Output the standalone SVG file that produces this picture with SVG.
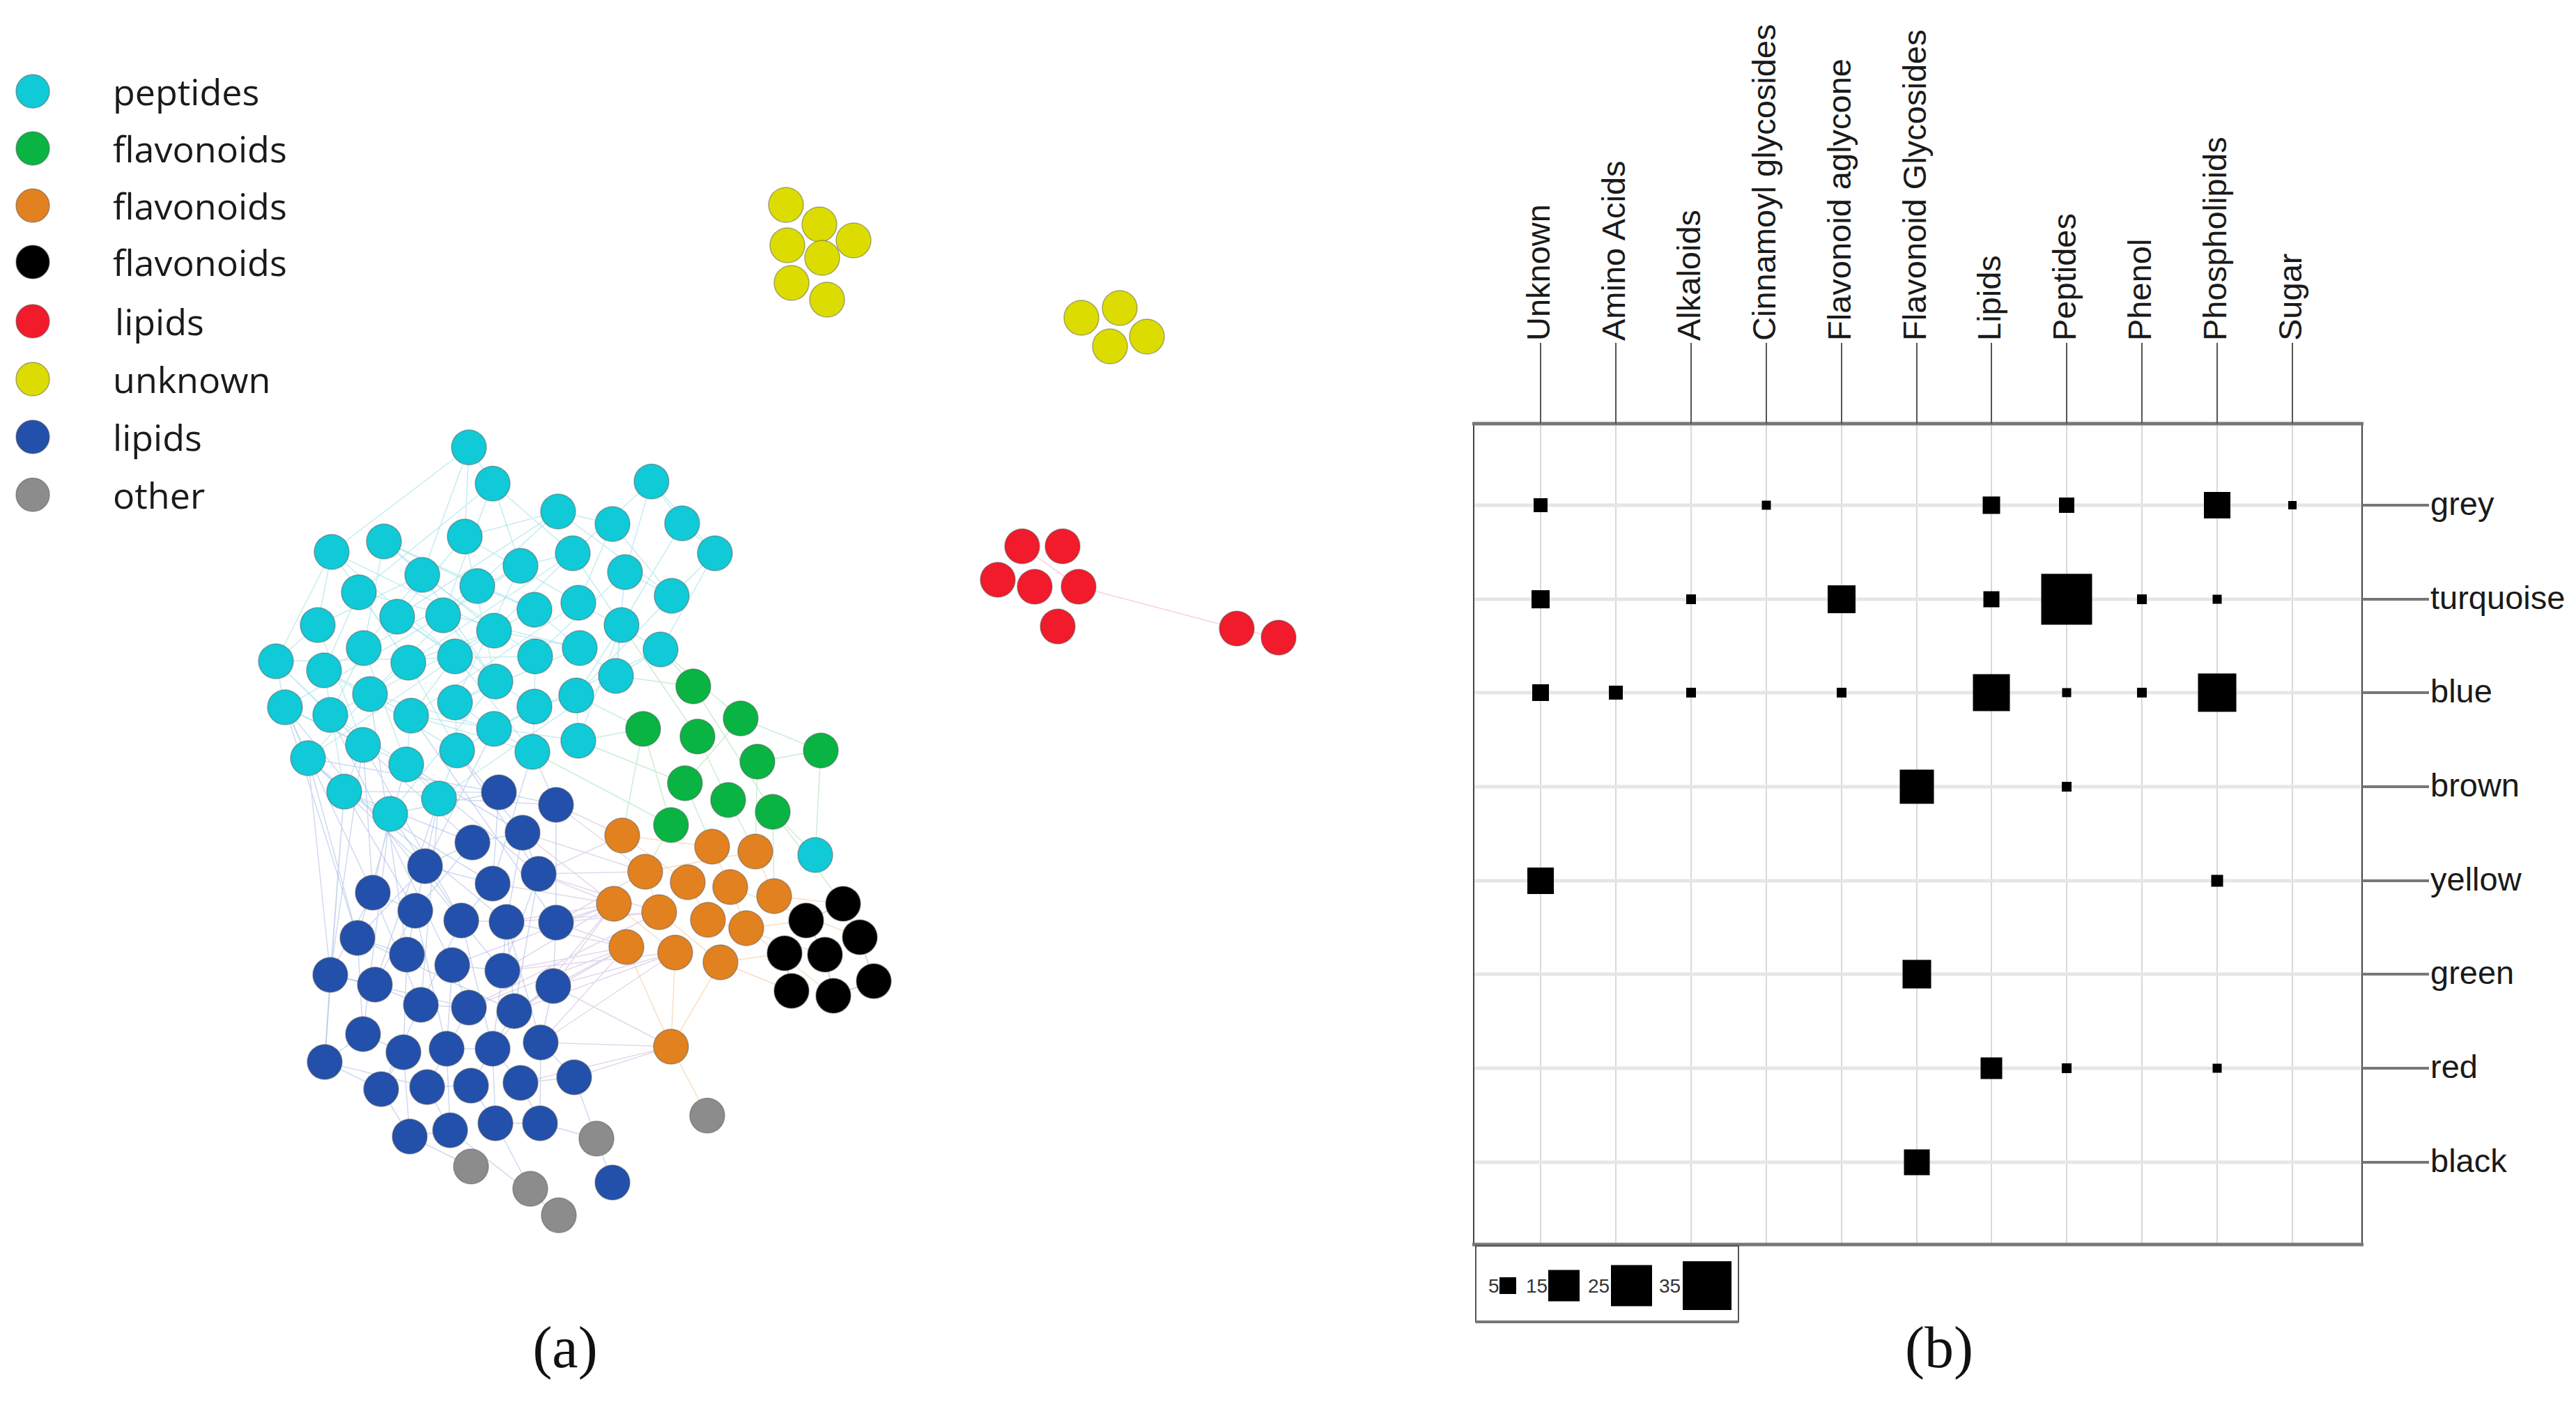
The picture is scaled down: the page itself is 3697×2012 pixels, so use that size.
<svg xmlns="http://www.w3.org/2000/svg" width="3697" height="2012" viewBox="0 0 3697 2012">
<defs>
<style>
.lg{font-family:"Open Sans","Noto Sans",sans-serif;font-size:52px;fill:#1a1a1a}
.ax{font-family:"Liberation Sans",Arial,sans-serif;font-size:47px;fill:#1a1a1a}
.sm{font-family:"Liberation Sans",Arial,sans-serif;font-size:28px;fill:#333}
.pl{font-family:"Liberation Serif","Times New Roman",serif;font-size:84px;fill:#111}
circle{stroke:#4a4a4a;stroke-opacity:.45;stroke-width:1.5}
.cy{fill:#10cad8}.gr{fill:#09b443}.or{fill:#e2811f}.bk{fill:#000}.rd{fill:#f11b2b}.ye{fill:#dcdc00}.bl{fill:#2350ab}.gy{fill:#8c8c8c}
.e{fill:none;stroke-width:1.5;stroke-opacity:.45}
.grid{stroke:#d9d9d9;stroke-width:2}
.rowl{stroke:#e6e6e6;stroke-width:5}
.tick{stroke:#555;stroke-width:2}
.rtick{stroke:#777;stroke-width:4}
.sq{fill:#000}
</style>
</defs>
<rect width="3697" height="2012" fill="#fff"/>

<g id="legend">
<g id="lg-peptides"><circle class="cy" cx="47" cy="131" r="24" stroke="none"/><text class="lg" x="162" y="151">peptides</text></g>
<g id="lg-flav1"><circle class="gr" cx="47" cy="213" r="24" stroke="none"/><text class="lg" x="162" y="233">flavonoids</text></g>
<g id="lg-flav2"><circle class="or" cx="47" cy="295" r="24" stroke="none"/><text class="lg" x="162" y="315">flavonoids</text></g>
<g id="lg-flav3"><circle class="bk" cx="47" cy="376" r="24" stroke="none"/><text class="lg" x="162" y="396">flavonoids</text></g>
<g id="lg-lipids1"><circle class="rd" cx="47" cy="461" r="24" stroke="none"/><text class="lg" x="165" y="481">lipids</text></g>
<g id="lg-unknown"><circle class="ye" cx="47" cy="544" r="24" stroke="none"/><text class="lg" x="162" y="564">unknown</text></g>
<g id="lg-lipids2"><circle class="bl" cx="47" cy="627" r="24" stroke="none"/><text class="lg" x="162" y="647">lipids</text></g>
<g id="lg-other"><circle class="gy" cx="47" cy="710" r="24" stroke="none"/><text class="lg" x="162" y="730">other</text></g>
</g>

<g id="connectors">
<path class="e" stroke="#7fd6e2" d="M673 642L476 792M673 642L606 825M673 642L667 770M673 642L707 694M707 694L747 812M707 694L515 850M707 694L636 883M935 691L822 794M935 691L897 821M801 734L685 841M801 734L570 885M879 752L964 855M979 751L1026 794M979 751L892 897M476 792L456 897M476 792L653 942M551 777L767 875M551 777L522 930M667 770L830 865M667 770L711 978M822 794L586 951M1026 794L948 932M606 825L768 942M747 812L465 962M685 841L531 996M897 821L884 970M515 850L832 930M964 855L827 998M570 885L767 1014M636 883L409 1015M767 875L474 1026M830 865L590 1027M456 897L521 1069M709 905L442 1088M892 897L830 1063M522 930L583 1097M586 951L656 1077M653 942L764 1079M768 942L396 949M832 930L653 1008M948 932L709 1046M396 949L409 1015M465 962L494 1136M711 978L560 1168M884 970L630 1146M531 996L442 1088M409 1015L521 1069M474 1026L583 1097M590 1027L764 1079M653 1008L709 1046M767 1014L656 1077M827 998L830 1063M935 691L979 751M879 752L801 734M822 794L747 812M897 821L964 855M709 905L832 930M892 897L884 970"/>
<path class="e" stroke="#7fd6e2" stroke-opacity=".3" d="M476 792L709 905M476 792L396 949M551 777L606 825M551 777L685 841M667 770L801 734M667 770L570 885M707 694L822 794M801 734L964 855M879 752L830 865M935 691L1026 794M1026 794L964 855M822 794L892 897M606 825L456 897M606 825L522 930M747 812L636 883M685 841L767 875M897 821L768 942M515 850L465 962M515 850L586 951M570 885L653 942M636 883L711 978M767 875L832 930M830 865L948 932M456 897L396 949M709 905L586 951M892 897L827 998M522 930L474 1026M586 951L531 996M653 942L590 1027M768 942L767 1014M832 930L884 970M948 932L884 970M396 949L474 1026M465 962L531 996M711 978L653 1008M531 996L590 1027M409 1015L442 1088M474 1026L521 1069M590 1027L583 1097M653 1008L656 1077M767 1014L764 1079M827 998L767 1014M709 1046L764 1079M521 1069L494 1136M583 1097L630 1146M656 1077L630 1146M442 1088L494 1136M494 1136L560 1168M396 949L521 1069M409 1015L583 1097M465 962L656 1077M531 996L709 1046M590 1027L830 1063M476 792L586 951M551 777L709 905M822 794L709 905M606 825L711 978M747 812L653 1008"/>
<path class="e" stroke="#8fd6a0" d="M995 985L948 932M995 985L884 970M923 1046L827 998M923 1046L830 1063M1063 1031L948 932M1001 1057L892 897M1178 1077L1087 1093M1178 1077L1063 1031M923 1046L893 1199M983 1124L1022 1215M1045 1148L1084 1222M963 1184L926 1251M1109 1165L1111 1286M1087 1093L1084 1222M1001 1057L1045 1148M923 1046L963 1184M995 985L1109 1165M1063 1031L983 1124M983 1124L830 1063M963 1184L764 1079M1109 1165L1210 1297M1170 1227L1109 1165M1170 1227L1178 1077"/>
<path class="e" stroke="#93aee0" d="M716 1137L442 1088M716 1137L494 1136M798 1155L764 1079M678 1209L521 1069M750 1195L656 1077M610 1243L709 1046M773 1254L583 1097M707 1268L494 1136M535 1281L560 1168M596 1307L630 1146M662 1321L521 1069M727 1323L442 1088M798 1324L590 1027M513 1346L583 1097M584 1370L531 996M649 1385L474 1026M721 1393L409 1015M474 1399L494 1136M538 1413L630 1146M535 1281L409 1015M513 1346L442 1088M474 1399L521 1069M466 1524L494 1136M521 1484L560 1168M604 1442L630 1146M716 1137L707 1268M798 1155L798 1324M678 1209L596 1307M750 1195L727 1323M610 1243L513 1346M773 1254L721 1393M535 1281L474 1399M596 1307L538 1413M662 1321L604 1442M727 1323L738 1451M798 1324L794 1415M584 1370L579 1510M649 1385L641 1505M721 1393L707 1505M794 1415L776 1496M604 1442L547 1563M673 1446L613 1560M738 1451L676 1558M521 1484L466 1524M579 1510L588 1631M641 1505L646 1622M707 1505L711 1612M776 1496L775 1612M747 1554L824 1546M824 1546L879 1697M776 1496L824 1546M547 1563L588 1631M613 1560L646 1622M676 1558L711 1612M747 1554L775 1612M588 1631L676 1674M775 1612L856 1634M711 1612L761 1706M646 1622L802 1744M466 1524L613 1560M474 1399L673 1446M513 1346L738 1451"/>
<path class="e" stroke="#93aee0" stroke-opacity=".3" d="M716 1137L798 1155M678 1209L750 1195M610 1243L707 1268M535 1281L596 1307M662 1321L727 1323M513 1346L584 1370M649 1385L721 1393M474 1399L538 1413M604 1442L673 1446M521 1484L579 1510M641 1505L707 1505M466 1524L547 1563M613 1560L676 1558M588 1631L646 1622M711 1612L775 1612M678 1209L610 1243M750 1195L773 1254M707 1268L662 1321M596 1307L584 1370M727 1323L721 1393M538 1413L604 1442M649 1385L673 1446M794 1415L738 1451M579 1510L547 1563M707 1505L747 1554M716 1137L560 1168M798 1155L630 1146M678 1209L494 1136M750 1195L583 1097M610 1243L442 1088M535 1281L521 1069M773 1254L656 1077M707 1268L764 1079M662 1321L560 1168M596 1307L494 1136M513 1346L409 1015M474 1399L442 1088M466 1524L474 1399M521 1484L513 1346M604 1442L535 1281M641 1505L596 1307M707 1505L662 1321M776 1496L727 1323M738 1451L773 1254"/>
<path class="e" stroke="#c3a6d4" d="M798 1324L881 1297M798 1324L899 1359M773 1254L926 1251M773 1254L881 1297M794 1415L899 1359M794 1415L969 1367M727 1323L946 1309M721 1393L881 1297M738 1451L899 1359M798 1155L893 1199M750 1195L926 1251M776 1496L899 1359M776 1496L963 1502M794 1415L963 1502M721 1393L969 1367M673 1446L946 1309M649 1385L881 1297M798 1324L946 1309M773 1254L893 1199M727 1323L899 1359M824 1546L963 1502M707 1505L881 1297M798 1324L926 1251M773 1254L946 1309M794 1415L881 1297M721 1393L899 1359M738 1451L969 1367M727 1323L881 1297M776 1496L969 1367M747 1554L963 1502M798 1155L926 1251M750 1195L881 1297M707 1268L881 1297M673 1446L899 1359"/>
<path class="e" stroke="#f0b878" d="M893 1199L987 1266M1022 1215L1048 1273M1084 1222L1111 1286M926 1251L946 1309M987 1266L1016 1320M1048 1273L1071 1332M881 1297L969 1367M946 1309L1034 1381M899 1359L963 1502M969 1367L963 1502M1034 1381L963 1502M1111 1286L1210 1297M1071 1332L1157 1321M1034 1381L1126 1368M1016 1320L1184 1370M1048 1273L1234 1345M963 1502L1015 1601M1034 1381L1136 1422M1071 1332L1196 1429M893 1199L1022 1215M926 1251L1084 1222"/>
<path class="e" stroke="#a09080" d="M1210 1297L1234 1345M1157 1321L1184 1370M1126 1368L1136 1422M1184 1370L1196 1429M1234 1345L1254 1408M1254 1408L1196 1429M1210 1297L1157 1321"/>
<path class="e" stroke="#f59aa4" stroke-opacity=".8" d="M1467 784L1548 842M1548 842L1775 902M1775 902L1835 915"/>
</g>

<g id="nodes">
<g id="c1"><circle class="cy" cx="673" cy="642" r="25"/></g>
<g id="c2"><circle class="cy" cx="707" cy="694" r="25"/></g>
<g id="c3"><circle class="cy" cx="935" cy="691" r="25"/></g>
<g id="c4"><circle class="cy" cx="801" cy="734" r="25"/></g>
<g id="c5"><circle class="cy" cx="879" cy="752" r="25"/></g>
<g id="c6"><circle class="cy" cx="979" cy="751" r="25"/></g>
<g id="c7"><circle class="cy" cx="476" cy="792" r="25"/></g>
<g id="c8"><circle class="cy" cx="551" cy="777" r="25"/></g>
<g id="c9"><circle class="cy" cx="667" cy="770" r="25"/></g>
<g id="c10"><circle class="cy" cx="822" cy="794" r="25"/></g>
<g id="c11"><circle class="cy" cx="1026" cy="794" r="25"/></g>
<g id="c12"><circle class="cy" cx="606" cy="825" r="25"/></g>
<g id="c13"><circle class="cy" cx="747" cy="812" r="25"/></g>
<g id="c14"><circle class="cy" cx="685" cy="841" r="25"/></g>
<g id="c15"><circle class="cy" cx="897" cy="821" r="25"/></g>
<g id="c16"><circle class="cy" cx="515" cy="850" r="25"/></g>
<g id="c17"><circle class="cy" cx="964" cy="855" r="25"/></g>
<g id="c18"><circle class="cy" cx="570" cy="885" r="25"/></g>
<g id="c19"><circle class="cy" cx="636" cy="883" r="25"/></g>
<g id="c20"><circle class="cy" cx="767" cy="875" r="25"/></g>
<g id="c21"><circle class="cy" cx="830" cy="865" r="25"/></g>
<g id="c22"><circle class="cy" cx="456" cy="897" r="25"/></g>
<g id="c23"><circle class="cy" cx="709" cy="905" r="25"/></g>
<g id="c24"><circle class="cy" cx="892" cy="897" r="25"/></g>
<g id="c25"><circle class="cy" cx="522" cy="930" r="25"/></g>
<g id="c26"><circle class="cy" cx="586" cy="951" r="25"/></g>
<g id="c27"><circle class="cy" cx="653" cy="942" r="25"/></g>
<g id="c28"><circle class="cy" cx="768" cy="942" r="25"/></g>
<g id="c29"><circle class="cy" cx="832" cy="930" r="25"/></g>
<g id="c30"><circle class="cy" cx="948" cy="932" r="25"/></g>
<g id="c31"><circle class="cy" cx="396" cy="949" r="25"/></g>
<g id="c32"><circle class="cy" cx="465" cy="962" r="25"/></g>
<g id="c33"><circle class="cy" cx="711" cy="978" r="25"/></g>
<g id="c34"><circle class="cy" cx="884" cy="970" r="25"/></g>
<g id="c35"><circle class="cy" cx="531" cy="996" r="25"/></g>
<g id="c36"><circle class="cy" cx="409" cy="1015" r="25"/></g>
<g id="c37"><circle class="cy" cx="474" cy="1026" r="25"/></g>
<g id="c38"><circle class="cy" cx="590" cy="1027" r="25"/></g>
<g id="c39"><circle class="cy" cx="653" cy="1008" r="25"/></g>
<g id="c40"><circle class="cy" cx="767" cy="1014" r="25"/></g>
<g id="c41"><circle class="cy" cx="827" cy="998" r="25"/></g>
<g id="c42"><circle class="cy" cx="709" cy="1046" r="25"/></g>
<g id="c43"><circle class="cy" cx="521" cy="1069" r="25"/></g>
<g id="c44"><circle class="cy" cx="442" cy="1088" r="25"/></g>
<g id="c45"><circle class="cy" cx="583" cy="1097" r="25"/></g>
<g id="c46"><circle class="cy" cx="656" cy="1077" r="25"/></g>
<g id="c47"><circle class="cy" cx="764" cy="1079" r="25"/></g>
<g id="c48"><circle class="cy" cx="830" cy="1063" r="25"/></g>
<g id="c49"><circle class="cy" cx="494" cy="1136" r="25"/></g>
<g id="c50"><circle class="cy" cx="560" cy="1168" r="25"/></g>
<g id="c51"><circle class="cy" cx="630" cy="1146" r="25"/></g>
<g id="c52"><circle class="cy" cx="1170" cy="1227" r="25"/></g>

<g id="g1"><circle class="gr" cx="995" cy="985" r="25"/></g>
<g id="g2"><circle class="gr" cx="1063" cy="1031" r="25"/></g>
<g id="g3"><circle class="gr" cx="923" cy="1046" r="25"/></g>
<g id="g4"><circle class="gr" cx="1001" cy="1057" r="25"/></g>
<g id="g5"><circle class="gr" cx="1178" cy="1077" r="25"/></g>
<g id="g6"><circle class="gr" cx="1087" cy="1093" r="25"/></g>
<g id="g7"><circle class="gr" cx="983" cy="1124" r="25"/></g>
<g id="g8"><circle class="gr" cx="1045" cy="1148" r="25"/></g>
<g id="g9"><circle class="gr" cx="1109" cy="1165" r="25"/></g>
<g id="g10"><circle class="gr" cx="963" cy="1184" r="25"/></g>

<g id="o1"><circle class="or" cx="893" cy="1199" r="25"/></g>
<g id="o2"><circle class="or" cx="1022" cy="1215" r="25"/></g>
<g id="o3"><circle class="or" cx="1084" cy="1222" r="25"/></g>
<g id="o4"><circle class="or" cx="926" cy="1251" r="25"/></g>
<g id="o5"><circle class="or" cx="987" cy="1266" r="25"/></g>
<g id="o6"><circle class="or" cx="1048" cy="1273" r="25"/></g>
<g id="o7"><circle class="or" cx="1111" cy="1286" r="25"/></g>
<g id="o8"><circle class="or" cx="881" cy="1297" r="25"/></g>
<g id="o9"><circle class="or" cx="946" cy="1309" r="25"/></g>
<g id="o10"><circle class="or" cx="1016" cy="1320" r="25"/></g>
<g id="o11"><circle class="or" cx="1071" cy="1332" r="25"/></g>
<g id="o12"><circle class="or" cx="899" cy="1359" r="25"/></g>
<g id="o13"><circle class="or" cx="969" cy="1367" r="25"/></g>
<g id="o14"><circle class="or" cx="1034" cy="1381" r="25"/></g>
<g id="o15"><circle class="or" cx="963" cy="1502" r="25"/></g>

<g id="k1"><circle class="bk" cx="1210" cy="1297" r="25"/></g>
<g id="k2"><circle class="bk" cx="1157" cy="1321" r="25"/></g>
<g id="k3"><circle class="bk" cx="1234" cy="1345" r="25"/></g>
<g id="k4"><circle class="bk" cx="1126" cy="1368" r="25"/></g>
<g id="k5"><circle class="bk" cx="1184" cy="1370" r="25"/></g>
<g id="k6"><circle class="bk" cx="1254" cy="1408" r="25"/></g>
<g id="k7"><circle class="bk" cx="1136" cy="1422" r="25"/></g>
<g id="k8"><circle class="bk" cx="1196" cy="1429" r="25"/></g>

<g id="b1"><circle class="bl" cx="716" cy="1137" r="25"/></g>
<g id="b2"><circle class="bl" cx="798" cy="1155" r="25"/></g>
<g id="b3"><circle class="bl" cx="678" cy="1209" r="25"/></g>
<g id="b4"><circle class="bl" cx="750" cy="1195" r="25"/></g>
<g id="b5"><circle class="bl" cx="610" cy="1243" r="25"/></g>
<g id="b6"><circle class="bl" cx="773" cy="1254" r="25"/></g>
<g id="b7"><circle class="bl" cx="707" cy="1268" r="25"/></g>
<g id="b8"><circle class="bl" cx="535" cy="1281" r="25"/></g>
<g id="b9"><circle class="bl" cx="596" cy="1307" r="25"/></g>
<g id="b10"><circle class="bl" cx="662" cy="1321" r="25"/></g>
<g id="b11"><circle class="bl" cx="727" cy="1323" r="25"/></g>
<g id="b12"><circle class="bl" cx="798" cy="1324" r="25"/></g>
<g id="b13"><circle class="bl" cx="513" cy="1346" r="25"/></g>
<g id="b14"><circle class="bl" cx="584" cy="1370" r="25"/></g>
<g id="b15"><circle class="bl" cx="649" cy="1385" r="25"/></g>
<g id="b16"><circle class="bl" cx="721" cy="1393" r="25"/></g>
<g id="b17"><circle class="bl" cx="474" cy="1399" r="25"/></g>
<g id="b18"><circle class="bl" cx="538" cy="1413" r="25"/></g>
<g id="b19"><circle class="bl" cx="794" cy="1415" r="25"/></g>
<g id="b20"><circle class="bl" cx="604" cy="1442" r="25"/></g>
<g id="b21"><circle class="bl" cx="673" cy="1446" r="25"/></g>
<g id="b22"><circle class="bl" cx="738" cy="1451" r="25"/></g>
<g id="b23"><circle class="bl" cx="521" cy="1484" r="25"/></g>
<g id="b24"><circle class="bl" cx="579" cy="1510" r="25"/></g>
<g id="b25"><circle class="bl" cx="641" cy="1505" r="25"/></g>
<g id="b26"><circle class="bl" cx="707" cy="1505" r="25"/></g>
<g id="b27"><circle class="bl" cx="776" cy="1496" r="25"/></g>
<g id="b28"><circle class="bl" cx="466" cy="1524" r="25"/></g>
<g id="b29"><circle class="bl" cx="547" cy="1563" r="25"/></g>
<g id="b30"><circle class="bl" cx="613" cy="1560" r="25"/></g>
<g id="b31"><circle class="bl" cx="676" cy="1558" r="25"/></g>
<g id="b32"><circle class="bl" cx="747" cy="1554" r="25"/></g>
<g id="b33"><circle class="bl" cx="824" cy="1546" r="25"/></g>
<g id="b34"><circle class="bl" cx="588" cy="1631" r="25"/></g>
<g id="b35"><circle class="bl" cx="646" cy="1622" r="25"/></g>
<g id="b36"><circle class="bl" cx="711" cy="1612" r="25"/></g>
<g id="b37"><circle class="bl" cx="775" cy="1612" r="25"/></g>
<g id="b38"><circle class="bl" cx="879" cy="1697" r="25"/></g>

<g id="gy1"><circle class="gy" cx="856" cy="1634" r="25"/></g>
<g id="gy2"><circle class="gy" cx="1015" cy="1601" r="25"/></g>
<g id="gy3"><circle class="gy" cx="676" cy="1674" r="25"/></g>
<g id="gy4"><circle class="gy" cx="761" cy="1706" r="25"/></g>
<g id="gy5"><circle class="gy" cx="802" cy="1744" r="25"/></g>

<g id="y1"><circle class="ye" cx="1128" cy="294" r="25" stroke="#7a7a00" stroke-opacity=".6"/></g>
<g id="y4"><circle class="ye" cx="1225" cy="345" r="25" stroke="#7a7a00" stroke-opacity=".6"/></g>
<g id="y3"><circle class="ye" cx="1130" cy="352" r="25" stroke="#7a7a00" stroke-opacity=".6"/></g>
<g id="y2"><circle class="ye" cx="1176" cy="322" r="25" stroke="#7a7a00" stroke-opacity=".6"/></g>
<g id="y5"><circle class="ye" cx="1180" cy="370" r="25" stroke="#7a7a00" stroke-opacity=".6"/></g>
<g id="y6"><circle class="ye" cx="1136" cy="406" r="25" stroke="#7a7a00" stroke-opacity=".6"/></g>
<g id="y7"><circle class="ye" cx="1187" cy="430" r="25" stroke="#7a7a00" stroke-opacity=".6"/></g>
<g id="y8"><circle class="ye" cx="1552" cy="456" r="25" stroke="#7a7a00" stroke-opacity=".6"/></g>
<g id="y9"><circle class="ye" cx="1607" cy="442" r="25" stroke="#7a7a00" stroke-opacity=".6"/></g>
<g id="y11"><circle class="ye" cx="1646" cy="483" r="25" stroke="#7a7a00" stroke-opacity=".6"/></g>
<g id="y10"><circle class="ye" cx="1593" cy="497" r="25" stroke="#7a7a00" stroke-opacity=".6"/></g>

<g id="r1"><circle class="rd" cx="1467" cy="784" r="25"/></g>
<g id="r2"><circle class="rd" cx="1525" cy="784" r="25"/></g>
<g id="r3"><circle class="rd" cx="1432" cy="832" r="25"/></g>
<g id="r4"><circle class="rd" cx="1485" cy="842" r="25"/></g>
<g id="r5"><circle class="rd" cx="1548" cy="842" r="25"/></g>
<g id="r6"><circle class="rd" cx="1518" cy="899" r="25"/></g>
<g id="r7"><circle class="rd" cx="1775" cy="902" r="25"/></g>
<g id="r8"><circle class="rd" cx="1835" cy="915" r="25"/></g>
</g>

<g id="matrix">
<g id="grid">
<line class="grid" x1="2211" y1="608" x2="2211" y2="1786"/>
<line class="grid" x1="2319" y1="608" x2="2319" y2="1786"/>
<line class="grid" x1="2427" y1="608" x2="2427" y2="1786"/>
<line class="grid" x1="2535" y1="608" x2="2535" y2="1786"/>
<line class="grid" x1="2643" y1="608" x2="2643" y2="1786"/>
<line class="grid" x1="2751" y1="608" x2="2751" y2="1786"/>
<line class="grid" x1="2858" y1="608" x2="2858" y2="1786"/>
<line class="grid" x1="2966" y1="608" x2="2966" y2="1786"/>
<line class="grid" x1="3074" y1="608" x2="3074" y2="1786"/>
<line class="grid" x1="3182" y1="608" x2="3182" y2="1786"/>
<line class="grid" x1="3290" y1="608" x2="3290" y2="1786"/>
<line class="rowl" x1="2115" y1="725" x2="3390" y2="725"/>
<line class="rowl" x1="2115" y1="860" x2="3390" y2="860"/>
<line class="rowl" x1="2115" y1="994" x2="3390" y2="994"/>
<line class="rowl" x1="2115" y1="1129" x2="3390" y2="1129"/>
<line class="rowl" x1="2115" y1="1264" x2="3390" y2="1264"/>
<line class="rowl" x1="2115" y1="1398" x2="3390" y2="1398"/>
<line class="rowl" x1="2115" y1="1533" x2="3390" y2="1533"/>
<line class="rowl" x1="2115" y1="1668" x2="3390" y2="1668"/>
</g>
<g id="frame">
<line x1="2115" y1="608" x2="2115" y2="1786" stroke="#444" stroke-width="2"/>
<line x1="3390" y1="608" x2="3390" y2="1786" stroke="#444" stroke-width="2"/>
<line x1="2113" y1="608" x2="3392" y2="608" stroke="#777" stroke-width="5"/>
<line x1="2113" y1="1786" x2="3392" y2="1786" stroke="#777" stroke-width="5"/>
</g>
<g id="col-ticks">
<line class="tick" x1="2211" y1="492" x2="2211" y2="608"/>
<line class="tick" x1="2319" y1="492" x2="2319" y2="608"/>
<line class="tick" x1="2427" y1="492" x2="2427" y2="608"/>
<line class="tick" x1="2535" y1="492" x2="2535" y2="608"/>
<line class="tick" x1="2643" y1="492" x2="2643" y2="608"/>
<line class="tick" x1="2751" y1="492" x2="2751" y2="608"/>
<line class="tick" x1="2858" y1="492" x2="2858" y2="608"/>
<line class="tick" x1="2966" y1="492" x2="2966" y2="608"/>
<line class="tick" x1="3074" y1="492" x2="3074" y2="608"/>
<line class="tick" x1="3182" y1="492" x2="3182" y2="608"/>
<line class="tick" x1="3290" y1="492" x2="3290" y2="608"/>
</g>
<g id="col-labels">
<text class="ax" transform="translate(2224,489) rotate(-90)">Unknown</text>
<text class="ax" transform="translate(2332,489) rotate(-90)">Amino Acids</text>
<text class="ax" transform="translate(2440,489) rotate(-90)">Alkaloids</text>
<text class="ax" transform="translate(2548,489) rotate(-90)">Cinnamoyl glycosides</text>
<text class="ax" transform="translate(2656,489) rotate(-90)">Flavonoid aglycone</text>
<text class="ax" transform="translate(2764,489) rotate(-90)">Flavonoid Glycosides</text>
<text class="ax" transform="translate(2871,489) rotate(-90)">Lipids</text>
<text class="ax" transform="translate(2979,489) rotate(-90)">Peptides</text>
<text class="ax" transform="translate(3087,489) rotate(-90)">Phenol</text>
<text class="ax" transform="translate(3195,489) rotate(-90)">Phospholipids</text>
<text class="ax" transform="translate(3303,489) rotate(-90)">Sugar</text>
</g>
<g id="row-labels">
<line class="rtick" x1="3390" y1="725" x2="3486" y2="725"/><text class="ax" x="3488" y="739">grey</text>
<line class="rtick" x1="3390" y1="860" x2="3486" y2="860"/><text class="ax" x="3488" y="874">turquoise</text>
<line class="rtick" x1="3390" y1="994" x2="3486" y2="994"/><text class="ax" x="3488" y="1008">blue</text>
<line class="rtick" x1="3390" y1="1129" x2="3486" y2="1129"/><text class="ax" x="3488" y="1143">brown</text>
<line class="rtick" x1="3390" y1="1264" x2="3486" y2="1264"/><text class="ax" x="3488" y="1278">yellow</text>
<line class="rtick" x1="3390" y1="1398" x2="3486" y2="1398"/><text class="ax" x="3488" y="1412">green</text>
<line class="rtick" x1="3390" y1="1533" x2="3486" y2="1533"/><text class="ax" x="3488" y="1547">red</text>
<line class="rtick" x1="3390" y1="1668" x2="3486" y2="1668"/><text class="ax" x="3488" y="1682">black</text>
</g>
<g id="squares">
<rect class="sq" x="2201" y="715" width="20" height="20"/>
<rect class="sq" x="2528.5" y="718.5" width="13" height="13"/>
<rect class="sq" x="2845.5" y="712.5" width="25" height="25"/>
<rect class="sq" x="2955" y="714" width="22" height="22"/>
<rect class="sq" x="3163" y="706" width="38" height="38"/>
<rect class="sq" x="3284" y="719" width="12" height="12"/>

<rect class="sq" x="2198" y="847" width="26" height="26"/>
<rect class="sq" x="2420" y="853" width="14" height="14"/>
<rect class="sq" x="2623" y="840" width="40" height="40"/>
<rect class="sq" x="2846.5" y="848.5" width="23" height="23"/>
<rect class="sq" x="2929.5" y="823.5" width="73" height="73"/>
<rect class="sq" x="3067" y="853" width="14" height="14"/>
<rect class="sq" x="3175.5" y="853.5" width="13" height="13"/>

<rect class="sq" x="2199" y="982" width="24" height="24"/>
<rect class="sq" x="2309" y="984" width="20" height="20"/>
<rect class="sq" x="2420" y="987" width="14" height="14"/>
<rect class="sq" x="2636" y="987" width="14" height="14"/>
<rect class="sq" x="2831.5" y="967.5" width="53" height="53"/>
<rect class="sq" x="2959.5" y="987.5" width="13" height="13"/>
<rect class="sq" x="3067" y="987" width="14" height="14"/>
<rect class="sq" x="3154.5" y="966.5" width="55" height="55"/>

<rect class="sq" x="2726.5" y="1104.5" width="49" height="49"/>
<rect class="sq" x="2959" y="1122" width="14" height="14"/>

<rect class="sq" x="2192" y="1245" width="38" height="38"/>
<rect class="sq" x="3173.5" y="1255.5" width="17" height="17"/>

<rect class="sq" x="2730.5" y="1377.5" width="41" height="41"/>

<rect class="sq" x="2842.5" y="1517.5" width="31" height="31"/>
<rect class="sq" x="2959" y="1526" width="14" height="14"/>
<rect class="sq" x="3175.5" y="1526.5" width="13" height="13"/>

<rect class="sq" x="2732.5" y="1649.5" width="37" height="37"/>
</g>
<g id="size-legend">
<rect x="2118" y="1788" width="377" height="109" fill="none" stroke="#555" stroke-width="2"/>
<line x1="2118" y1="1897" x2="2495" y2="1897" stroke="#777" stroke-width="4"/>
<text class="sm" x="2136" y="1855">5</text>
<rect class="sq" x="2152" y="1833" width="24" height="24"/>
<text class="sm" x="2190" y="1855">15</text>
<rect class="sq" x="2222" y="1822.5" width="45" height="45"/>
<text class="sm" x="2279" y="1855">25</text>
<rect class="sq" x="2312" y="1815.5" width="59" height="59"/>
<text class="sm" x="2381" y="1855">35</text>
<rect class="sq" x="2415" y="1810" width="70" height="70"/>
</g>
</g>

<g id="panel-labels">
<text class="pl" x="811" y="1962" text-anchor="middle">(a)</text>
<text class="pl" x="2783" y="1962" text-anchor="middle">(b)</text>
</g>
</svg>
